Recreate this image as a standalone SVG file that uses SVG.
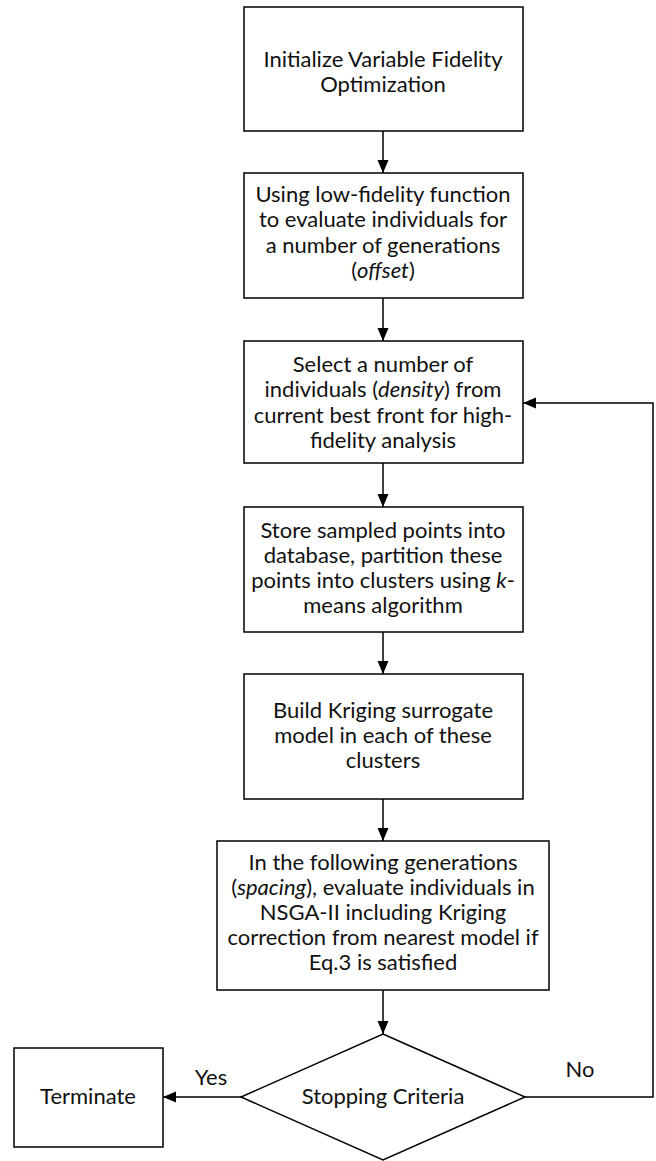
<svg xmlns="http://www.w3.org/2000/svg" width="656" height="1161" viewBox="0 0 656 1161">
<style>
.box{fill:#fff;stroke:#000;stroke-width:1.5}
.t{font-family:Lato,"Open Sans","Liberation Sans",sans-serif;font-size:22px;fill:#111;text-anchor:middle}
.c{fill:none;stroke:#000;stroke-width:1.5}
.i{font-style:italic}
</style>
<defs>
<marker id="ah" markerUnits="userSpaceOnUse" markerWidth="14" markerHeight="12" refX="13" refY="5.5" orient="auto">
<path d="M0,0 L13,5.5 L0,11 z" fill="#000"/>
</marker>
</defs>
<rect width="656" height="1161" fill="#fff"/>
<g id="connectors">
<line class="c" x1="383" y1="131" x2="383" y2="173" marker-end="url(#ah)"/>
<line class="c" x1="383" y1="298" x2="383" y2="341" marker-end="url(#ah)"/>
<line class="c" x1="383" y1="463" x2="383" y2="507" marker-end="url(#ah)"/>
<line class="c" x1="383" y1="632" x2="383" y2="674" marker-end="url(#ah)"/>
<line class="c" x1="383" y1="799" x2="383" y2="841" marker-end="url(#ah)"/>
<line class="c" x1="383" y1="990" x2="383" y2="1034" marker-end="url(#ah)"/>
<line class="c" x1="241" y1="1097" x2="163" y2="1097" marker-end="url(#ah)"/>
<polyline class="c" points="525,1097 653,1097 653,403 523,403" marker-end="url(#ah)"/>
<text class="t" x="211" y="1085">Yes</text>
<text class="t" x="580" y="1077">No</text>
</g>
<g id="n1">
<rect class="box" x="244" y="7" width="279" height="124"/>
<text class="t" x="383" y="67">Initialize Variable Fidelity</text>
<text class="t" x="383" y="92">Optimization</text>
</g>
<g id="n2">
<rect class="box" x="244" y="173" width="279" height="125"/>
<text class="t" x="383" y="202">Using low-fidelity function</text>
<text class="t" x="383" y="227">to evaluate individuals for</text>
<text class="t" x="383" y="253">a number of generations</text>
<text class="t" x="383" y="278">(<tspan class="i">offset</tspan>)</text>
</g>
<g id="n3">
<rect class="box" x="244" y="341" width="279" height="122"/>
<text class="t" x="383" y="372">Select a number of</text>
<text class="t" x="383" y="397">individuals (<tspan class="i">density</tspan>) from</text>
<text class="t" x="383" y="423">current best front for high-</text>
<text class="t" x="383" y="448">fidelity analysis</text>
</g>
<g id="n4">
<rect class="box" x="244" y="507" width="279" height="125"/>
<text class="t" x="383" y="538">Store sampled points into</text>
<text class="t" x="383" y="563">database, partition these</text>
<text class="t" x="383" y="588">points into clusters using <tspan class="i">k</tspan>-</text>
<text class="t" x="383" y="613">means algorithm</text>
</g>
<g id="n5">
<rect class="box" x="244" y="674" width="279" height="125"/>
<text class="t" x="383" y="718">Build Kriging surrogate</text>
<text class="t" x="383" y="743">model in each of these</text>
<text class="t" x="383" y="768">clusters</text>
</g>
<g id="n6">
<rect class="box" x="217" y="841" width="332" height="149"/>
<text class="t" x="383" y="870">In the following generations</text>
<text class="t" x="383" y="895">(<tspan class="i">spacing</tspan>), evaluate individuals in</text>
<text class="t" x="383" y="920">NSGA-II including Kriging</text>
<text class="t" x="383" y="945">correction from nearest model if</text>
<text class="t" x="383" y="970">Eq.3 is satisfied</text>
</g>
<g id="n7">
<polygon class="box" points="383,1034 525,1097 383,1160 241,1097"/>
<text class="t" x="383" y="1104">Stopping Criteria</text>
</g>
<g id="n8">
<rect class="box" x="14" y="1048" width="149" height="99"/>
<text class="t" x="88" y="1104">Terminate</text>
</g>
</svg>
